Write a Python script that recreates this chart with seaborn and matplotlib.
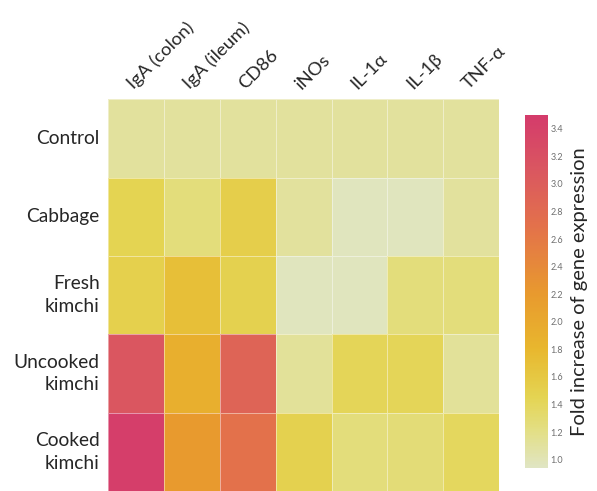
import numpy as np
import pandas as pd
import matplotlib
matplotlib.use("Agg")
import matplotlib.pyplot as plt
from matplotlib.colors import LinearSegmentedColormap
import seaborn as sns

groups = ["Control", "Cabbage", "Fresh\nkimchi", "Uncooked\nkimchi", "Cooked\nkimchi"]
genes = ["IgA (colon)", "IgA (ileum)", "CD86", "iNOs", "IL-1\u03b1", "IL-1\u03b2", "TNF-\u03b1"]

control = [1.10, 1.10, 1.10, 1.10, 1.10, 1.10, 1.10]
cabbage = [1.45, 1.25, 1.52, 1.10, 0.96, 0.96, 1.10]
fresh_kimchi = [1.50, 1.70, 1.48, 0.96, 0.96, 1.25, 1.25]
uncooked_kimchi = [3.10, 1.90, 2.90, 1.12, 1.42, 1.42, 1.12]
cooked_kimchi = [3.45, 2.20, 2.70, 1.48, 1.25, 1.27, 1.40]

cbar_ticks = [1.0, 1.2, 1.4, 1.6, 1.8, 2.0, 2.2, 2.4, 2.6, 2.8, 3.0, 3.2, 3.4]

df = pd.DataFrame([control, cabbage, fresh_kimchi, uncooked_kimchi, cooked_kimchi],
                  index=groups, columns=genes)

vmin, vmax = 0.94, 3.5
anchors = [(0.94, "#e0e5c3"), (1.2, "#e3df86"), (1.45, "#e4d452"), (1.8, "#e8b72e"),
           (2.2, "#e89a2e"), (2.7, "#e3714b"), (3.1, "#da5760"), (3.5, "#d43b6b")]
cmap = LinearSegmentedColormap.from_list(
    "fold", [((v - vmin) / (vmax - vmin), c) for v, c in anchors])

sns.set_style("white")
plt.rcParams["font.family"] = ["Lato", "DejaVu Sans"]

fig = plt.figure(figsize=(5.97, 4.91), dpi=100)
ax = fig.add_axes([0.181, 0.0, 0.655, 0.798])
cax = fig.add_axes([0.879, 0.047, 0.0385, 0.719])

sns.heatmap(df, ax=ax, cbar_ax=cax, cmap=cmap, vmin=vmin, vmax=vmax,
            linewidths=0.6, linecolor=(1, 1, 1, 0.45),
            cbar_kws={"ticks": cbar_ticks})

ax.xaxis.tick_top()
ax.set_xticklabels(genes, rotation=45, ha="left", va="bottom",
                   rotation_mode="anchor", fontsize=13.3)
ax.set_yticklabels(groups, rotation=0, fontsize=13.8, ha="right",
                   linespacing=1.42)
ax.tick_params(axis="x", length=0, pad=5)
ax.tick_params(axis="y", length=0, pad=6)
ax.set_xlabel("")
ax.set_ylabel("")

cax.set_yticklabels([f"{t:.1f}" for t in cbar_ticks], fontsize=6.5, color="#707070")
cax.tick_params(length=0, pad=2)
for s in cax.spines.values():
    s.set_visible(False)
cax.set_ylabel("Fold increase of gene expression", fontsize=14.5, labelpad=6)

fig.savefig("out.png", dpi=100)
